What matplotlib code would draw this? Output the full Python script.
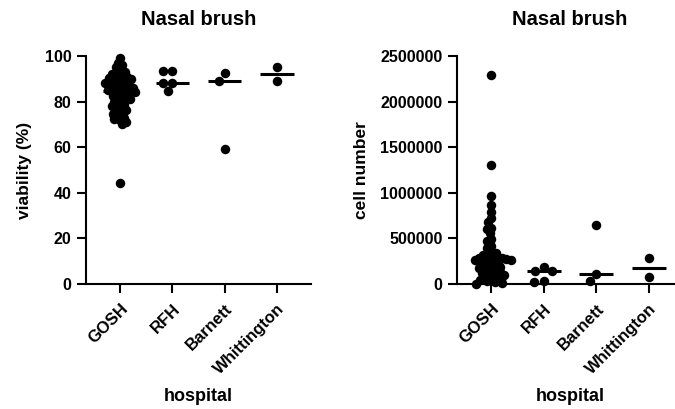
import numpy as np
import matplotlib
matplotlib.use("Agg")
import matplotlib.pyplot as plt

plt.rcParams['font.family'] = ['Liberation Sans', 'DejaVu Sans']
plt.rcParams['font.weight'] = 'bold'

hospitals = ["GOSH", "RFH", "Barnett", "Whittington"]

viability_gosh = [99, 97, 96, 95, 94, 93, 92.5, 92, 91.5, 91, 90.5, 90, 89.5, 89, 88.5, 88,
                  87.5, 87, 86.5, 86, 85.5, 85, 85, 84.5, 84, 83.5, 83, 82.5, 82, 81.5, 81,
                  80.5, 80, 79, 78.5, 78, 77, 76.5, 76, 75, 74.5, 74, 73, 72.5, 72, 71, 70,
                  86, 88, 84, 90, 44.5]
viability_rfh = [93.5, 93.5, 88.3, 88.3, 84.5]
viability_barnett = [92.4, 89.0, 59.2]
viability_whittington = [95.0, 89.0]

cells_gosh = [2290000, 1300000, 970000, 870000, 790000, 720000, 680000, 610000, 600000,
              560000, 490000, 470000, 420000, 390000, 360000, 340000, 330000, 315000,
              300000, 290000, 285000, 280000, 275000, 270000, 265000, 260000, 250000,
              240000, 230000, 220000, 210000, 200000, 190000, 180000, 170000, 160000,
              150000, 140000, 130000, 120000, 110000, 100000, 90000, 80000, 70000,
              60000, 50000, 40000, 30000, 20000, 10000, 5000]
cells_rfh = [190000, 145000, 140000, 30000, 25000]
cells_barnett = [650000, 115000, 36000]
cells_whittington = [285000, 75000]

W, H, DPI = 6.75, 4.09, 100
fig = plt.figure(figsize=(W, H), dpi=DPI)

def make_ax(left_px, right_px, top_px, bottom_px):
    return fig.add_axes([left_px / 675, 1 - bottom_px / 409,
                         (right_px - left_px) / 675, (bottom_px - top_px) / 409])

ax1 = make_ax(86, 311, 56, 284)
ax2 = make_ax(457, 683, 56, 284)

d_px = 9.5  # marker diameter in pixels
ms = d_px * 72 / DPI

def swarm_offsets(ax, vals, overlap=1.0):
    ys = ax.transData.transform(np.column_stack([np.zeros(len(vals)), vals]))[:, 1]
    x0 = ax.transData.transform((0, 0))[0]
    x1 = ax.transData.transform((1, 0))[0]
    xppu = x1 - x0
    d = d_px * overlap
    placed = []
    offs = []
    for y in ys:
        cands = [0.0]
        for (px, py) in placed:
            dy = y - py
            if abs(dy) < d:
                dx = np.sqrt(d * d - dy * dy)
                cands += [px + dx, px - dx]
        cands = sorted(cands, key=lambda c: (abs(c), c))
        chosen = 0.0
        for c in cands:
            ok = all((c - px) ** 2 + (y - py) ** 2 >= d * d - 1e-6 for (px, py) in placed)
            if ok:
                chosen = c
                break
        placed.append((chosen, y))
        offs.append(chosen / xppu)
    return np.array(offs)

def draw(ax, groups, ylim, yticks, ylabel, overlaps, ylabelpad):
    ax.set_xlim(-0.65, 3.65)
    ax.set_ylim(*ylim)
    for i, vals in enumerate(groups):
        vals = np.array(vals, dtype=float)
        offs = swarm_offsets(ax, vals, overlaps[i])
        ax.plot(i + offs, vals, 'o', color='black', ms=ms, mec='black', mew=0, zorder=3,
                clip_on=False)
        ax.hlines(np.median(vals), i - 0.32, i + 0.32, color='black', lw=2.2, zorder=4)
    ax.set_xticks(range(len(hospitals)))
    ax.set_xticklabels(hospitals, rotation=45, ha='right', va='top',
                       rotation_mode='anchor', fontsize=12, fontweight='bold')
    ax.set_yticks(yticks)
    ax.set_yticklabels([str(t) for t in yticks], fontsize=11.5, fontweight='bold')
    for s in ['top', 'right']:
        ax.spines[s].set_visible(False)
    for s in ['left', 'bottom']:
        ax.spines[s].set_linewidth(1.5)
    ax.tick_params(axis='both', width=1.5, length=6.5, pad=4, color='black')
    ax.tick_params(axis='x', pad=6)
    ax.set_ylabel(ylabel, fontsize=12.5, fontweight='bold', labelpad=ylabelpad)
    ax.set_xlabel("hospital", fontsize=13, fontweight='bold', labelpad=8)
    ax.set_title("Nasal brush", fontsize=14.5, fontweight='bold', pad=22)

draw(ax1, [viability_gosh, viability_rfh, viability_barnett, viability_whittington],
     (0, 100), [0, 20, 40, 60, 80, 100], "viability (%)", [0.52, 1.0, 1.0, 1.0], 9)
draw(ax2, [cells_gosh, cells_rfh, cells_barnett, cells_whittington],
     (0, 2500000), [0, 500000, 1000000, 1500000, 2000000, 2500000], "cell number",
     [0.5, 1.0, 1.0, 1.0], 8)

fig.savefig("out.png", dpi=DPI)
